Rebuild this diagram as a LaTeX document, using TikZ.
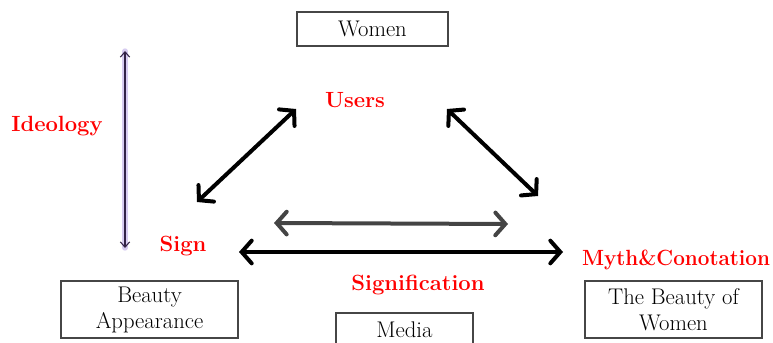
\documentclass[tikz,border=0pt]{standalone}
\usetikzlibrary{arrows.meta}
\definecolor{lblred}{RGB}{255,0,0}
\definecolor{glow}{RGB}{215,204,240}
\definecolor{ideo}{RGB}{50,35,70}
\definecolor{grayarr}{RGB}{68,68,68}
\definecolor{boxline}{RGB}{70,70,70}
\begin{document}
\begin{tikzpicture}[x=0.75pt,y=-0.75pt,
  lbl/.style={text=lblred,font=\fontsize{16.5}{19}\selectfont\bfseries,inner sep=0pt},
  boxn/.style={draw=boxline,line width=0.9pt,font=\fontsize{17}{19.5}\selectfont,align=center,inner sep=0pt},
  bigarr/.style={line width=3pt,line cap=round,{Straight Barb[length=7.5pt,width=17pt,line cap=round]}-{Straight Barb[length=7.5pt,width=17pt,line cap=round]}},
]
\useasboundingbox (0,0) rectangle (773,342);
% boxes
\node[boxn,minimum width=151*0.75pt,minimum height=34*0.75pt] (women) at (372.5,29) {Women};
\node[boxn,minimum width=177*0.75pt,minimum height=57*0.75pt] (beauty) at (149.5,309.5) {Beauty\\Appearance};
\node[boxn,minimum width=177*0.75pt,minimum height=57*0.75pt] (bow) at (673.5,309.5) {The Beauty of\\Women};
\node[boxn,minimum width=137*0.75pt,minimum height=34*0.75pt] (media) at (404.5,330) {Media};
% labels
\node[lbl] (users) at (355,100) {Users};
\node[lbl] (ideology) at (57,126) {Ideology};
\node[lbl] (sign) at (183,246) {Sign};
\node[lbl] (myth) at (676,260) {\scalebox{0.94}[1]{Myth\&Conotation}};
\node[lbl] (signif) at (418,285) {Signification};
% arrow endpoints
\coordinate (ia) at (125,51);
\coordinate (ib) at (125,248);
\coordinate (la) at (296,109);
\coordinate (lb) at (197,202);
\coordinate (ra) at (447,109);
\coordinate (rb) at (538,196);
\coordinate (ga) at (274,223);
\coordinate (gb) at (508,224);
\coordinate (ha) at (239,252);
\coordinate (hb) at (563,252);
% ideology arrow
\draw[glow,line width=4pt,line cap=round] (ia) -- (ib);
\draw[ideo,line width=0.8pt,{Straight Barb[length=4pt,width=7pt]}-{Straight Barb[length=4pt,width=7pt]}] (ia) -- (ib);
% big arrows
\draw[bigarr] (la) -- (lb);
\draw[bigarr] (ra) -- (rb);
\draw[bigarr,grayarr] (ga) -- (gb);
\draw[bigarr] (ha) -- (hb);
\end{tikzpicture}
\end{document}
